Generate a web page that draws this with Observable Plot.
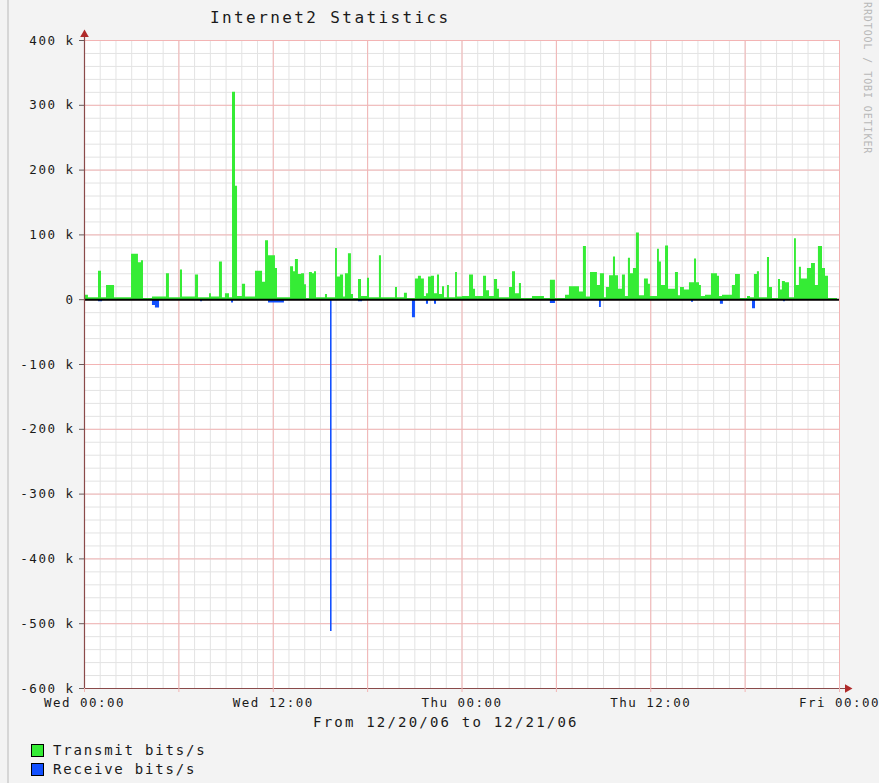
<!DOCTYPE html>
<html>
<head>
<meta charset="utf-8">
<script src="https://cdn.jsdelivr.net/npm/d3@7"></script>
<script src="https://cdn.jsdelivr.net/npm/@observablehq/plot@0.6"></script>
<style>
  html, body { margin: 0; padding: 0; background: #f3f3f3; }
  #wrap { position: relative; width: 879px; height: 783px; background: #f3f3f3; overflow: hidden; font-family: "DejaVu Sans Mono", monospace; }
  #lborder { position: absolute; left: 7px; top: 0; width: 2px; height: 783px; background: #d6d6d6; }
  #chart { position: absolute; left: 0; top: 0; }
  #title { position: absolute; left: 210px; top: 8px; font-size: 16px; letter-spacing: 2.4px; color: #1a1a1a; white-space: nowrap; }
  #caption { position: absolute; left: 313px; top: 714px; font-size: 14px; letter-spacing: 2.2px; color: #1a1a1a; white-space: nowrap; }
  .leg { position: absolute; left: 31px; font-size: 14px; letter-spacing: 1.8px; color: #1a1a1a; white-space: nowrap; display: flex; align-items: center; }
  .sw { width: 11px; height: 11px; border: 1px solid #000; margin-right: 9px; }
  #wm { position: absolute; left: 862px; top: 2px; writing-mode: vertical-rl; font-size: 10px; letter-spacing: 0.9px; color: #b8b8b8; white-space: nowrap; }
</style>
</head>
<body>
<div id="wrap">
  <div id="lborder"></div>
  <div id="chart"></div>
  <div id="title">Internet2 Statistics</div>
  <div id="caption">From 12/20/06 to 12/21/06</div>
  <div class="leg" style="top:742px"><div class="sw" id="swTx"></div><span id="lgTx"></span></div>
  <div class="leg" style="top:761px"><div class="sw" id="swRx"></div><span id="lgRx"></span></div>
  <div id="wm">RRDTOOL / TOBI OETIKER</div>
</div>
<script>
// ---- Data (hours since Wed 12/20/06 00:00, values in k bits/s) ----
const seriesNames = ["Transmit bits/s", "Receive bits/s"];
const seriesColors = ["#35ec35", "#1250ff"];

const txHours = [
  0,0.25,0.89,1.08,1.40,1.91,2.99,3.43,3.62,3.75,
  4.32,5.21,5.40,6.10,6.23,7.06,7.25,7.95,8.07,8.58,
  8.77,8.96,9.22,9.41,9.60,9.73,10.04,10.24,10.87,11.32,
  11.51,11.70,12.14,12.27,13.10,13.29,13.41,13.60,13.80,13.99,
  14.11,14.30,14.49,14.62,14.75,15.32,15.45,15.96,16.08,16.27,
  16.47,16.59,16.78,16.97,17.10,17.42,17.61,17.99,18.12,18.75,
  18.88,19.77,19.90,20.34,20.53,21.04,21.23,21.42,21.61,21.74,
  21.87,22.06,22.25,22.44,22.57,22.76,22.89,23.08,23.20,23.59,
  23.71,24.03,24.48,24.73,24.86,25.37,25.56,25.75,26.06,26.26,
  26.38,27.02,27.21,27.40,27.65,27.78,28.48,29.24,29.62,29.94,
  30.58,30.83,31.47,31.72,31.91,32.17,32.61,32.80,33.06,33.18,
  33.38,33.63,33.76,33.95,34.20,34.39,34.58,34.71,34.90,35.09,
  35.28,35.60,35.85,35.98,36.43,36.55,36.68,36.94,37.13,37.57,
  37.76,37.89,38.14,38.46,38.78,38.91,39.10,39.22,39.48,39.86,
  40.24,40.37,40.56,41.19,41.39,41.70,42.15,42.34,42.59,42.78,
  42.91,43.42,43.55,43.74,44.12,44.25,44.37,44.56,44.82,45.14,
  45.26,45.45,45.58,45.96,46.22,46.47,46.66,46.92,47.11,47.30,
  47.87
];
const txKbps = [
  7,3,44,3,22,3,70,57,60,2,
  4,40,3,46,4,38,3,9,4,58,
  3,9,3,320,175,5,24,4,44,27,
  91,68,48,3,51,43,62,39,40,23,
  2,42,40,43,3,8,3,79,35,38,
  4,40,71,8,2,31,5,33,3,68,
  3,19,3,10,2,32,36,32,5,9,
  35,36,9,38,8,20,3,22,3,42,
  4,5,38,16,5,36,14,5,31,16,
  3,19,43,9,25,2,5,2,30,2,
  7,20,12,82,4,42,22,40,3,19,
  37,66,37,16,38,5,64,40,48,103,
  6,32,24,5,78,58,22,83,16,42,
  6,19,15,26,63,26,22,5,7,40,
  36,5,7,22,39,2,5,3,39,43,
  3,65,19,2,31,15,28,26,3,94,
  22,50,32,48,56,22,82,48,36,2,
  2
];

const rxHours = [0,0.89,1.15,4.32,4.51,4.77,7.38,7.50,9.35,9.47,11.70,12.71,15.64,15.74,17.42,17.68,20.85,21.04,21.74,21.87,22.25,22.38,29.62,29.94,32.74,32.86,38.59,38.72,40.43,40.62,42.47,42.66,44.44,44.56,47.87];
const rxKbps  = [0,-3,0,-9,-13,0,-3,0,-5,0,-5,0,-512,0,-3,0,-28,0,-7,0,-7,0,-6,0,-12,0,-4,0,-7,0,-14,0,-3,0,0];

const xTickHours = [0, 12, 24, 36, 48];
const xTickLabels = ["Wed 00:00", "Wed 12:00", "Thu 00:00", "Thu 12:00", "Fri 00:00"];
const yTickValues = [400, 300, 200, 100, 0, -100, -200, -300, -400, -500, -600];
const yTickLabels = ["400 k", "300 k", "200 k", "100 k", "0", "-100 k", "-200 k", "-300 k", "-400 k", "-500 k", "-600 k"];

// ---- Build tables ----
const tx = txHours.map((h, i) => ({h, v: txKbps[i]}));
const rx = rxHours.map((h, i) => ({h, v: rxKbps[i]}));

const minorX = d3.range(0, 49, 1);
const majorX = d3.range(0, 49, 6);
const minorY = d3.range(-600, 401, 20);
const majorY = d3.range(-600, 401, 100);

const axisColor = "#8a4a4a";
const arrowColor = "#b02a2a";
const minorColor = "#e3e3e3";
const majorColor = "#f3b4b4";

const chart = Plot.plot({
  width: 879,
  height: 783,
  marginLeft: 84,
  marginRight: 40,
  marginTop: 40,
  marginBottom: 95,
  style: {
    background: "transparent",
    fontFamily: "DejaVu Sans Mono, monospace",
    fontSize: "12.5px",
    letterSpacing: "1.5px",
    color: "#1a1a1a",
    overflow: "visible"
  },
  x: {domain: [0, 48], axis: null},
  y: {domain: [-600, 400], axis: null},
  marks: [
    Plot.frame({fill: "white", stroke: null}),
    Plot.ruleX(minorX, {stroke: minorColor, strokeWidth: 1}),
    Plot.ruleY(minorY, {stroke: minorColor, strokeWidth: 1}),
    Plot.ruleX(majorX, {stroke: majorColor, strokeWidth: 1}),
    Plot.ruleY(majorY, {stroke: majorColor, strokeWidth: 1}),
    Plot.areaY(tx, {x: "h", y: "v", curve: "step-after", fill: seriesColors[0]}),
    Plot.areaY(rx, {x: "h", y: "v", curve: "step-after", fill: seriesColors[1]}),
    Plot.ruleY([0], {stroke: "#000", strokeWidth: 2}),
    Plot.ruleX([0], {stroke: axisColor, strokeWidth: 1.2, insetTop: -3}),
    Plot.ruleY([-600], {stroke: axisColor, strokeWidth: 1.2, insetRight: -6}),
    Plot.dot([0], {x: d => d, y: () => 400, symbol: "triangle", r: 3.2, dy: -6, fill: arrowColor, stroke: null}),
    Plot.dot([48], {x: d => d, y: () => -600, symbol: "triangle", r: 3.2, dx: 8, rotate: 90, fill: arrowColor, stroke: null}),
    Plot.axisX(majorX, {tickSize: 4, tickFormat: () => "", stroke: majorColor, label: null}),
    Plot.axisX(xTickHours, {tickSize: 0, tickPadding: 10, tickFormat: d => xTickLabels[xTickHours.indexOf(d)], label: null, fill: "#1a1a1a"}),
    Plot.axisY(yTickValues, {tickSize: 5, tickPadding: 5, tickFormat: d => yTickLabels[yTickValues.indexOf(d)], stroke: "#6a5a5a", label: null, fill: "#1a1a1a"})
  ]
});
document.getElementById("chart").appendChild(chart);

document.getElementById("swTx").style.background = seriesColors[0];
document.getElementById("swRx").style.background = seriesColors[1];
document.getElementById("lgTx").textContent = seriesNames[0];
document.getElementById("lgRx").textContent = seriesNames[1];
</script>
</body>
</html>
